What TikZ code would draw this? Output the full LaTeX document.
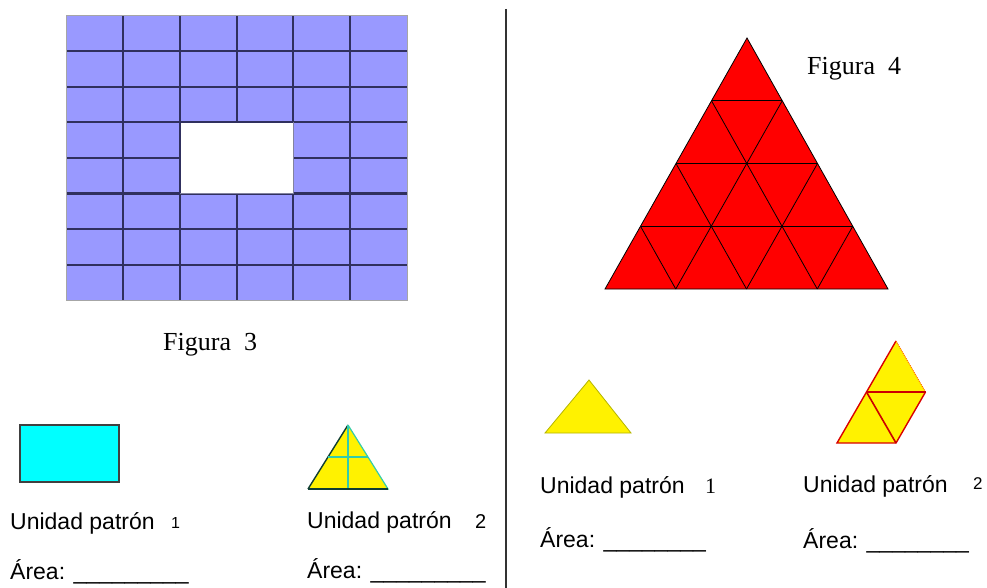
\documentclass[tikz,border=0pt]{standalone}
\usepackage{fontspec}
\setmainfont{Liberation Serif}
\newfontfamily\arialfont{Liberation Sans}
\usetikzlibrary{calc}
\definecolor{tileblue}{HTML}{9999FF}
\definecolor{tileline}{HTML}{30305E}
\definecolor{unitcyan}{HTML}{00FFFF}
\definecolor{seam}{HTML}{33CCAA}
\definecolor{olive}{HTML}{B4B400}
\tikzstyle{caption} = [font=\fontsize{26}{30}\selectfont, anchor=base west, inner sep=0pt]
\tikzstyle{unitlabel} = [font=\arialfont\fontsize{23}{27}\selectfont, anchor=base west, inner sep=0pt]
\tikzstyle{tile} = [draw=tileline, line width=2pt]
\tikzstyle{tri} = [draw=black, line width=0.8pt]

\begin{document}
\begin{tikzpicture}[x=1pt,y=-1pt]
\useasboundingbox (0,0) rectangle (987,588);

% Figure 3: tiled rectangle with a hole
\fill[tileblue] (66,16) rectangle (407,300);
\foreach \i in {1,...,5}
  \draw[tile] ({66+\i*56.833},16) -- ({66+\i*56.833},300);
\foreach \j in {1,...,7}
  \draw[tile] (66,{16+\j*35.5}) -- (407,{16+\j*35.5});
\fill[white] (180.5,123.3) rectangle (292.5,192.7);
\draw[tileline, line width=1.4pt] (179.67,193.5) -- (179.67,122.5) -- (293.33,122.5);
\draw[tileline!60, line width=1pt] (293.33,122.5) -- (293.33,193.5) -- (179.67,193.5);
\draw[gray!70, line width=1pt] (66,16) rectangle (407,300);
\node[caption](fig3) at (163,350) {Figura\ \ 3};

% Divider
\draw[black!80, line width=1.8pt] (506,9) -- (506,588);

% Figure 4: triangle of triangles
\coordinate (A) at (747,38);
\coordinate (L) at (605,289);
\coordinate (R) at (888,289);
\fill[red] (A) -- (L) -- (R) -- cycle;
\foreach \k in {0.25,0.5,0.75} {
  \draw[tri] ($(L)!\k!(A)$) -- ($(R)!\k!(A)$);
  \draw[tri] ($(L)!\k!(R)$) -- ($(A)!\k!(R)$);
  \draw[tri] ($(R)!\k!(L)$) -- ($(A)!\k!(L)$);
}
\draw[tri] (A) -- (L) -- (R) -- cycle;
\node[caption](fig4) at (807,75) {Figura\ \ 4};

% Pattern units, left
\draw[fill=unitcyan, draw=black!75, line width=1.2pt] (20,425) rectangle (119,482);
\node[unitlabel](lab1) at (10,529) {Unidad patrón};
\node[font=\arialfont\fontsize{16}{18}\selectfont, anchor=base west, inner sep=0pt](num1) at (171,528) {1};
\node[unitlabel](area1) at (10,579) {Área: \_\_\_\_\_\_\_\_\_};

\coordinate (ta) at (348,425);
\coordinate (tl) at (308,489);
\coordinate (tr) at (388,489);
\fill[yellow] (ta) -- (tl) -- (tr) -- cycle;
\draw[seam, line width=1.2pt] (ta) -- (tr) -- (tl);
\draw[black!70!seam, line width=1.4pt] (tl) -- (ta);
\draw[seam, line width=1.4pt] (ta) -- ($(tl)!0.5!(tr)$);
\draw[seam, line width=1.4pt] ($(tl)!0.5!(ta)$) -- ($(tr)!0.5!(ta)$);
\draw[black!70!seam, line width=1.2pt] (tl) -- (tr);
\node[unitlabel](lab2) at (307,528) {Unidad patrón};
\node[font=\arialfont\fontsize{20}{24}\selectfont, anchor=base west, inner sep=0pt](num2) at (475,528) {2};
\node[unitlabel](area2) at (307,578) {Área: \_\_\_\_\_\_\_\_\_};

% Pattern units, right
\fill[yellow, draw=olive, line width=0.8pt] (589,380) -- (545,433) -- (631,433) -- cycle;
\node[unitlabel](lab3) at (540,493) {Unidad patrón};
\node[font=\fontsize{22}{26}\selectfont, anchor=base west, inner sep=0pt](num3) at (705,493) {1};
\node[unitlabel](area3) at (540,547) {Área: \_\_\_\_\_\_\_\_};

\coordinate (p1) at (837,443);
\coordinate (p2) at (896,443);
\coordinate (p3) at (925.5,392);
\coordinate (p4) at (896,341);
\coordinate (p5) at (866.5,392);
\fill[yellow] (p1) -- (p2) -- (p3) -- (p4) -- cycle;
\draw[red!85!black, line width=1.4pt] (p3) -- (p2) -- (p1) -- (p4);
\draw[red!60!yellow, line width=1pt, densely dotted] (p4) -- (p3);
\draw[red!80!black, line width=1.6pt] (p5) -- (p3);
\draw[red!80!black, line width=1.6pt] (p5) -- (p2);
\node[unitlabel](lab4) at (803,492) {Unidad patrón};
\node[font=\arialfont\fontsize{17}{20}\selectfont, anchor=base west, inner sep=0pt](num4) at (973,489) {2};
\node[unitlabel](area4) at (803,548) {Área: \_\_\_\_\_\_\_\_};

\end{tikzpicture}
\end{document}
